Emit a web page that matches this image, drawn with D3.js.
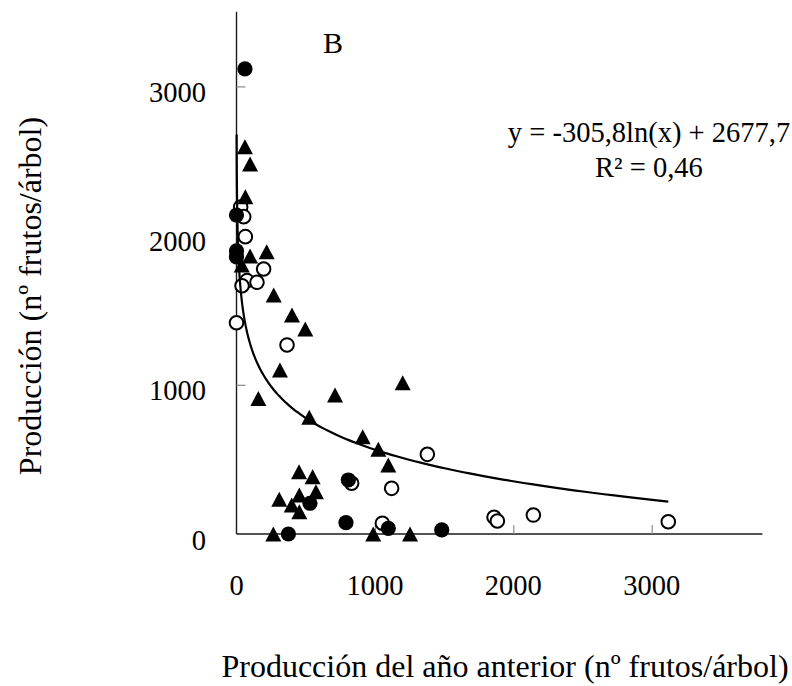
<!DOCTYPE html>
<html>
<head>
<meta charset="utf-8">
<script src="https://cdn.jsdelivr.net/npm/d3@7"></script>
<style>
  html, body { margin: 0; padding: 0; background: #fff; }
  svg { display: block; }
  text { font-family: "Liberation Serif", "Times New Roman", serif; fill: #000; }
</style>
</head>
<body>
<div id="chart"></div>
<script>
// Previous-year production (x) vs. current production (y), fruits per tree
const filledCircleX = [61, 0, 0, 0, 808, 531, 791, 375, 1097, 1483];
const filledCircleY = [3117, 2138, 1897, 1857, 362, 206, 76, 0, 38, 27];

const openCircleX = [30, 52, 64, 196, 76, 148, 40, 0, 365, 832, 1054, 1121, 1379, 1861, 1885, 2145, 3120];
const openCircleY = [2192, 2127, 1993, 1776, 1698, 1687, 1664, 1416, 1267, 340, 72, 306, 534, 112, 87, 127, 82];

const triangleX = [61, 98, 64, 98, 218, 38, 269, 401, 497, 314, 158, 712, 1201, 526, 912, 1025, 1097,
                   452, 550, 574, 309, 454, 399, 454, 266, 988, 1254];
const triangleY = [2596, 2480, 2261, 1863, 1892, 1803, 1602, 1468, 1374, 1099, 909, 932, 1014, 782, 652, 568, 462,
                   418, 384, 284, 233, 261, 194, 149, 0, 0, 0];

// Logarithmic fit: y = a*ln(x) + b
const fitA = -305.8;
const fitB = 2677.7;
const fitRange = [1, 3120];
const fitLabel = "y = -305,8ln(x) + 2677,7";
const r2Label = "R² = 0,46";

const xTicks = [0, 1000, 2000, 3000];
const yTicks = [0, 1000, 2000, 3000];
const xDomain = [0, 3800];
const yDomain = [0, 3500];

const panelLabel = "B";
const xTitle = "Producción del año anterior (nº frutos/árbol)";
const yTitle = "Producción (nº frutos/árbol)";

const W = 792, H = 686;
const svg = d3.select("#chart").append("svg").attr("width", W).attr("height", H);

const x = d3.scaleLinear().domain(xDomain).range([236.5, 762.4]);
const y = d3.scaleLinear().domain(yDomain).range([534, 11.8]);

const tickFont = 28.5;
const titleFont = 32;

// Axes: lines with short grey ticks pointing into the plot
const xAxis = d3.axisBottom(x).tickValues(xTicks.filter(d => d > 0)).tickSize(-9).tickFormat("");
const yAxis = d3.axisLeft(y).tickValues(yTicks.filter(d => d > 0)).tickSize(-9).tickFormat("");

const gx = svg.append("g").attr("transform", `translate(0,${y(0)})`).call(xAxis);
const gy = svg.append("g").attr("transform", `translate(${x(0)},0)`).call(yAxis);
[gx, gy].forEach(g => {
  g.select(".domain").attr("stroke", "#1a1a1a").attr("stroke-width", 1.4);
  g.selectAll(".tick line").attr("stroke", "#8a8a8a").attr("stroke-width", 1.2);
});
gx.select(".domain").attr("d", `M${x(0)},0H${x(xDomain[1])}`);
gy.select(".domain").attr("d", `M0,${y(0)}V${y(yDomain[1])}`);

// Tick labels
svg.append("g").selectAll("text").data(xTicks).join("text")
  .attr("x", d => x(d)).attr("y", 595)
  .attr("text-anchor", "middle").attr("font-size", tickFont)
  .text(d => d);
svg.append("g").selectAll("text").data(yTicks).join("text")
  .attr("x", 206).attr("y", d => y(d) + 15.5)
  .attr("text-anchor", "end").attr("font-size", tickFont)
  .text(d => d);

// Axis titles
svg.append("text").attr("x", 505).attr("y", 677)
  .attr("text-anchor", "middle").attr("font-size", titleFont).text(xTitle);
svg.append("text").attr("transform", "translate(41,296) rotate(-90)")
  .attr("text-anchor", "middle").attr("font-size", titleFont).text(yTitle);

// Panel letter and fit annotation
svg.append("text").attr("x", 333).attr("y", 53)
  .attr("text-anchor", "middle").attr("font-size", 30).text(panelLabel);
svg.append("text").attr("x", 649).attr("y", 142)
  .attr("text-anchor", "middle").attr("font-size", tickFont).text(fitLabel);
svg.append("text").attr("x", 649).attr("y", 177)
  .attr("text-anchor", "middle").attr("font-size", tickFont).text(r2Label);

// Markers
const zipXY = (xs, ys) => xs.map((v, i) => [v, ys[i]]);
const marks = svg.append("g");

marks.selectAll("circle.open").data(zipXY(openCircleX, openCircleY)).join("circle")
  .attr("class", "open")
  .attr("cx", d => x(d[0])).attr("cy", d => y(d[1])).attr("r", 6.8)
  .attr("fill", "#fff").attr("stroke", "#000").attr("stroke-width", 2);

marks.selectAll("circle.filled").data(zipXY(filledCircleX, filledCircleY)).join("circle")
  .attr("class", "filled")
  .attr("cx", d => x(d[0])).attr("cy", d => y(d[1])).attr("r", 7.6)
  .attr("fill", "#000");

const triW = 16, triH = 15;
marks.selectAll("path.tri").data(zipXY(triangleX, triangleY)).join("path")
  .attr("class", "tri")
  .attr("transform", d => `translate(${x(d[0])},${y(d[1])})`)
  .attr("d", `M0,${-triH / 2}L${triW / 2},${triH / 2}L${-triW / 2},${triH / 2}Z`)
  .attr("fill", "#000");

// Trend line
const fitPts = d3.range(0, 301).map(i => {
  const xv = fitRange[0] * Math.pow(fitRange[1] / fitRange[0], i / 300);
  return [xv, fitA * Math.log(xv) + fitB];
});
svg.append("path").datum(fitPts)
  .attr("d", d3.line().x(d => x(d[0])).y(d => y(d[1])))
  .attr("fill", "none").attr("stroke", "#000").attr("stroke-width", 2.2);
</script>
</body>
</html>
